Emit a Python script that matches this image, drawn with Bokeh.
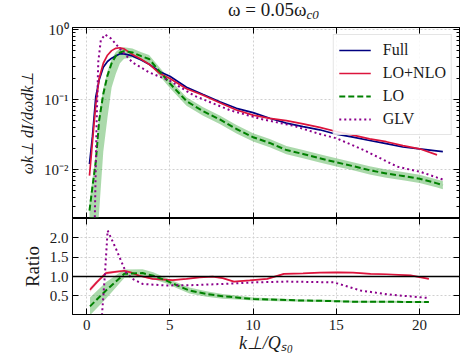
import numpy as np
from bokeh.plotting import figure
from bokeh.layouts import column
from bokeh.models import (Range1d, FixedTicker, LinearAxis, LogAxis, Span,
                          Legend, LegendItem, Div, CustomJSTickFormatter)
from bokeh.embed import file_html
from bokeh.resources import INLINE

FONT = "Liberation Serif"

# ---------------- data ----------------
k_full = [0.17, 0.35, 0.55, 0.75, 1.0, 1.25, 1.5, 1.75, 2.0, 2.25, 2.75, 3.25, 3.75, 4.4, 5.0,
          6.0, 7.0, 8.0, 9.0, 10.0, 11.0, 12.0, 13.0, 14.0, 15.0, 16.0, 17.0, 18.0, 19.0, 20.0, 21.0, 21.4]
full = [0.012, 0.03, 0.11, 0.19, 0.29, 0.35, 0.39, 0.42, 0.45, 0.45, 0.42, 0.37, 0.32, 0.25, 0.215,
        0.15, 0.118, 0.093, 0.075, 0.065, 0.054, 0.046, 0.041, 0.037, 0.032, 0.029, 0.026, 0.0235, 0.021, 0.0198, 0.0185, 0.018]

k_nlo = [0.17, 0.35, 0.55, 0.75, 1.0, 1.25, 1.5, 1.75, 2.0, 2.25, 2.75, 3.25, 3.75, 4.4, 5.0,
         6.0, 7.0, 8.0, 9.0, 10.0, 11.0, 12.0, 13.0, 14.0, 15.0, 16.0, 17.0, 18.0, 19.0, 20.0, 21.05]
nlo = [0.0082, 0.025, 0.085, 0.2, 0.33, 0.43, 0.5, 0.54, 0.55, 0.53, 0.44, 0.38, 0.32, 0.235, 0.2,
       0.143, 0.115, 0.09, 0.071, 0.06, 0.054, 0.05, 0.045, 0.04, 0.035, 0.031, 0.0275, 0.025, 0.022, 0.0198, 0.0162]

k_lo = [0.17, 0.35, 0.55, 0.75, 1.0, 1.25, 1.5, 1.75, 2.0, 2.25, 2.75, 3.25, 3.75, 4.4, 5.0,
        6.0, 7.0, 8.0, 9.0, 10.0, 11.0, 12.0, 13.0, 14.0, 15.0, 16.0, 17.0, 18.0, 19.0, 20.0, 21.0, 21.4]
lo = [0.0026, 0.0057, 0.013, 0.05, 0.12, 0.22, 0.33, 0.42, 0.47, 0.49, 0.47, 0.42, 0.38, 0.25, 0.17,
      0.095, 0.068, 0.052, 0.038, 0.029, 0.024, 0.019, 0.0167, 0.0145, 0.0127, 0.0112, 0.0098, 0.0088, 0.0081, 0.0074, 0.0064, 0.006]
lo_err_dn = [0.95, 0.95, 0.95, 0.95, 0.85, 0.75, 0.55, 0.45, 0.3, 0.22, 0.15, 0.14, 0.14, 0.14, 0.14,
             0.14, 0.14, 0.14, 0.14, 0.13, 0.13, 0.13, 0.13, 0.13, 0.13, 0.13, 0.13, 0.13, 0.13, 0.13, 0.13, 0.13]
lo_err_up = [0.3, 0.3, 0.3, 0.25, 0.2, 0.15, 0.14, 0.14, 0.14, 0.14, 0.14, 0.14, 0.14, 0.14, 0.14,
             0.14, 0.14, 0.14, 0.14, 0.14, 0.14, 0.14, 0.14, 0.14, 0.14, 0.14, 0.14, 0.14, 0.14, 0.14, 0.14, 0.14]

k_glv = [0.48, 0.6, 0.7, 0.85, 1.1, 1.45, 2.0, 2.75, 3.75, 5.0, 6.45, 7.5, 8.65, 10.45, 12.45,
         14.05, 15.0, 16.65, 18.66, 20.1, 21.4]
glv = [0.0015, 0.05, 0.35, 0.7, 0.85, 0.75, 0.53, 0.34, 0.245, 0.185, 0.114, 0.09, 0.07, 0.053, 0.042,
       0.032, 0.028, 0.019, 0.011, 0.0092, 0.0072]

# ratios to Full
kr_nlo = [0.2, 0.6, 1.16, 1.7, 2.26, 2.7, 3.16, 3.96, 5.16, 6.0, 6.77, 7.57, 8.17, 8.85, 9.8,
          10.85, 11.85, 13.0, 14.0, 15.05, 16.0, 17.06, 18.0, 19.46, 20.56]
ratio_nlo = [0.66, 0.85, 1.09, 1.12, 1.15, 1.1, 1.02, 0.94, 0.91, 0.94, 0.98, 1.0, 0.96, 0.87, 0.9,
             0.94, 1.07, 1.08, 1.1, 1.11, 1.1, 1.07, 1.06, 1.03, 0.94]
ratio_nlo_err = [0.06, 0.05, 0.04, 0.03, 0.03, 0.02, 0.02, 0.02, 0.015, 0.015, 0.015, 0.015, 0.015, 0.015, 0.015,
                 0.015, 0.015, 0.015, 0.015, 0.015, 0.015, 0.015, 0.015, 0.015, 0.015]

kr_glv = [0.92, 1.1, 1.26, 1.76, 2.36, 2.76, 3.36, 4.76, 6.5, 8.17, 10.05, 12.05, 14.85, 16.46, 18.06, 20.46]
ratio_glv = [0.0, 1.07, 2.19, 1.72, 1.11, 0.94, 0.81, 0.77, 0.78, 0.81, 0.85, 0.87, 0.85, 0.64, 0.54, 0.45]

kr_lo = [0.2, 1.16, 2.26, 3.36, 4.0, 4.76, 5.5, 6.17, 7.2, 8.17, 9.0, 10.05, 11.5, 13.05, 14.5, 16.05, 18.0, 20.56]
ratio_lo = [0.23, 0.64, 1.07, 1.09, 1.02, 0.9, 0.76, 0.64, 0.55, 0.49, 0.46, 0.42, 0.40, 0.38, 0.37, 0.35, 0.35, 0.34]
ratio_lo_err = [0.23, 0.21, 0.11, 0.1, 0.09, 0.07, 0.075, 0.08, 0.07, 0.06, 0.05, 0.04, 0.035, 0.03, 0.03, 0.025, 0.025, 0.025]

x_ticks = [0, 5, 10, 15, 20]
y_ticks_top = [0.01, 0.1, 1.0]
y_tick_labels_top = {0.01: "10⁻²", 0.1: "10⁻¹", 1.0: "10⁰"}
y_ticks_ratio = [0.5, 1.0, 1.5, 2.0]
y_tick_labels_ratio = {0.5: "0.5", 1.0: "1.0", 1.5: "1.5", 2.0: "2.0"}

C_FULL, C_NLO, C_LO, C_GLV = "navy", "#dc143c", "green", "darkmagenta"
C_BAND = "#2ca02c"

# ---------------- title ----------------
title = Div(text=("<div style=\"width:387px;margin-left:80px;text-align:center;"
                  "font-family:'Liberation Serif',serif;font-size:19px;line-height:20px;"
                  "color:#1a1a1a;white-space:nowrap;\">"
                  "ω = 0.05ω<sub style=\"font-size:13px;line-height:0;font-style:italic;"
                  "vertical-align:-3px;\">c0</sub></div>"),
            width=467, height=20, margin=0)

# ---------------- figures ----------------
xr = Range1d(-0.85, 22.4)
p1 = figure(width=467, height=198, y_axis_type="log", x_range=xr, y_range=Range1d(0.002, 1.07),
            output_backend="svg", toolbar_location=None,
            min_border_left=72, min_border_right=8, min_border_top=7, min_border_bottom=0)
p2 = figure(width=467, height=145, x_range=xr, y_range=Range1d(0.02, 2.5),
            output_backend="svg", toolbar_location=None,
            min_border_left=72, min_border_right=8, min_border_top=0, min_border_bottom=49)
for p in (p1, p2):
    p.title.visible = False

minor_log = [m * d for d in (0.001, 0.01, 0.1) for m in range(2, 10)]
xt = FixedTicker(ticks=x_ticks)
yt1 = FixedTicker(ticks=y_ticks_top, minor_ticks=minor_log)
yt2 = FixedTicker(ticks=y_ticks_ratio)


def style(ax, show):
    ax.major_tick_in = 6
    ax.major_tick_out = 0
    ax.minor_tick_in = 3
    ax.minor_tick_out = 0
    ax.axis_line_color = "black"
    ax.major_tick_line_color = "black"
    ax.minor_tick_line_color = "black"
    if show:
        ax.major_label_text_font = FONT
        ax.major_label_text_font_size = "15px"
        ax.major_label_text_color = "#1a1a1a"
        ax.major_label_standoff = 4
    else:
        ax.formatter = CustomJSTickFormatter(code="return ''")
        ax.major_label_text_font_size = "1px"
        ax.major_label_standoff = 0


axes = {}
for name, p, yt, ylog in (("p1", p1, yt1, True), ("p2", p2, yt2, False)):
    bottom = p.below[0]
    left = p.left[0]
    bottom.ticker = xt
    left.ticker = yt
    p.xgrid[0].ticker = xt
    p.ygrid[0].ticker = yt
    top = LinearAxis(ticker=xt)
    right = LogAxis(ticker=yt) if ylog else LinearAxis(ticker=yt)
    p.add_layout(top, "above")
    p.add_layout(right, "right")
    style(top, False)
    style(right, False)
    axes[name] = (bottom, left)
    for g in (p.xgrid[0], p.ygrid[0]):
        g.grid_line_color = "#d0d0d0"
        g.grid_line_dash = "2 2"
        g.grid_line_width = 1
    p.outline_line_color = "black"
    p.background_fill_color = "white"
    p.border_fill_color = "white"

b1, l1 = axes["p1"]
b2, l2 = axes["p2"]
style(b1, False)
b1.minor_tick_in = 0
style(l1, True)
l1.major_label_overrides = y_tick_labels_top
l1.axis_label = "ωk⊥ dI/dωdk⊥"
l1.axis_label_text_font = FONT
l1.axis_label_text_font_size = "16px"
l1.axis_label_text_font_style = "italic"
l1.axis_label_text_color = "#1a1a1a"
l1.axis_label_standoff = 5
style(b2, True)
b2.major_label_standoff = 5
b2.minor_tick_in = 0
style(l2, True)
l2.minor_tick_in = 0
l2.major_label_overrides = y_tick_labels_ratio

l2.axis_label = "Ratio"
l2.axis_label_text_font = FONT
l2.axis_label_text_font_size = "19px"
l2.axis_label_text_font_style = "normal"
l2.axis_label_text_color = "#1a1a1a"
l2.axis_label_standoff = 4
b2.axis_label = "k⊥/Qₛ₀"
b2.axis_label_text_font = FONT
b2.axis_label_text_font_size = "18px"
b2.axis_label_text_font_style = "italic"
b2.axis_label_text_color = "#1a1a1a"
b2.axis_label_standoff = 0

# ---------------- top panel ----------------
lo_lower = [v * (1 - e) for v, e in zip(lo, lo_err_dn)]
lo_upper = [v * (1 + e) for v, e in zip(lo, lo_err_up)]
p1.varea(x=k_lo, y1=lo_lower, y2=lo_upper, fill_color=C_BAND, fill_alpha=0.4)
rend_full = p1.line(k_full, full, line_color=C_FULL, line_width=1.7)
rend_nlo = p1.line(k_nlo, nlo, line_color=C_NLO, line_width=1.7)
rend_lo = p1.line(k_lo, lo, line_color=C_LO, line_width=2, line_dash="6 3")
rend_glv = p1.line(k_glv, glv, line_color=C_GLV, line_width=2, line_dash="2 3")

legend = Legend(items=[LegendItem(label="Full", renderers=[rend_full]),
                       LegendItem(label="LO+NLO", renderers=[rend_nlo]),
                       LegendItem(label="LO", renderers=[rend_lo]),
                       LegendItem(label="GLV", renderers=[rend_glv])],
                location="top_right")
legend.label_text_font = FONT
legend.label_text_font_size = "16px"
legend.label_text_color = "#1a1a1a"
legend.glyph_width = 32
legend.glyph_height = 20
legend.label_height = 20
legend.label_standoff = 12
legend.spacing = 3
legend.padding = 5
legend.margin = 7
legend.border_line_color = "#cccccc"
legend.border_line_width = 1
legend.background_fill_alpha = 0.85
p1.add_layout(legend)

# ---------------- ratio panel ----------------
p2.varea(x=kr_lo, y1=[v - e for v, e in zip(ratio_lo, ratio_lo_err)],
         y2=[v + e for v, e in zip(ratio_lo, ratio_lo_err)], fill_color=C_BAND, fill_alpha=0.4)
p2.varea(x=kr_nlo, y1=[v - e for v, e in zip(ratio_nlo, ratio_nlo_err)],
         y2=[v + e for v, e in zip(ratio_nlo, ratio_nlo_err)], fill_color=C_NLO, fill_alpha=0.25)
p2.add_layout(Span(location=1.0, dimension="width", line_color="black", line_width=1.4))
p2.line(kr_nlo, ratio_nlo, line_color=C_NLO, line_width=1.7)
p2.line(kr_lo, ratio_lo, line_color=C_LO, line_width=2, line_dash="6 3")
p2.line(kr_glv, ratio_glv, line_color=C_GLV, line_width=2, line_dash="2 3")

layout = column(title, p1, p2, spacing=0)
open("out.html", "w").write(file_html(layout, INLINE))
